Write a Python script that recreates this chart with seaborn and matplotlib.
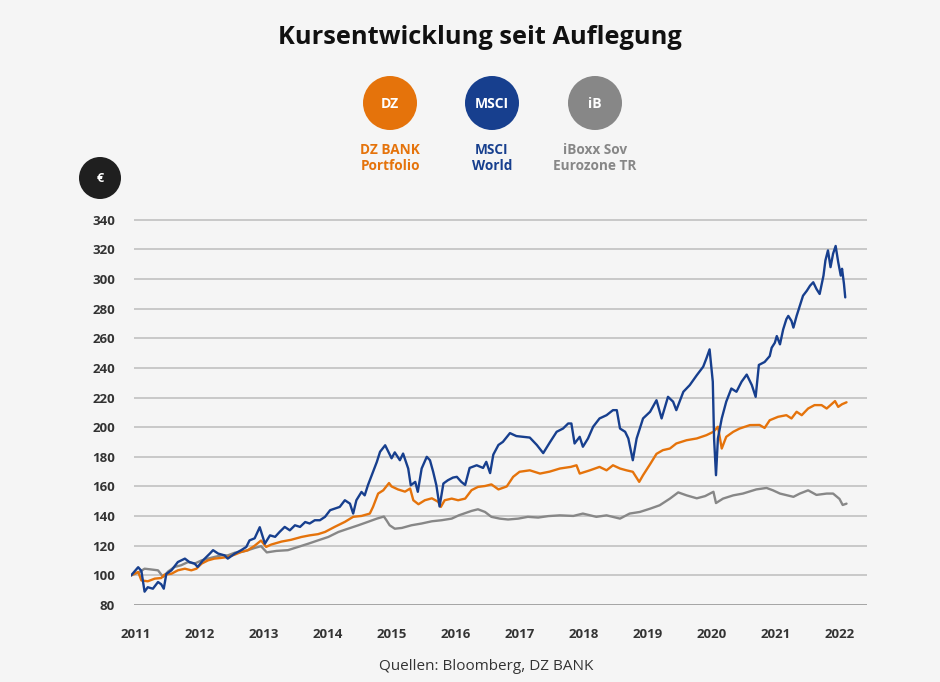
"""Kursentwicklung seit Auflegung -> out.png"""
import numpy as np
import pandas as pd
import matplotlib
matplotlib.use("Agg")
import matplotlib.pyplot as plt
from matplotlib.patches import Circle
import seaborn as sns

# ── data (decimal years, index value) ─────────────────────────────────────────
msci_x = [2010.93, 2011.04, 2011.09, 2011.14, 2011.19, 2011.27, 2011.35, 2011.40, 2011.44, 2011.48,
          2011.56, 2011.66, 2011.77, 2011.84, 2011.92, 2011.97, 2012.05, 2012.16, 2012.21, 2012.29,
          2012.39, 2012.44, 2012.55, 2012.65, 2012.73, 2012.78, 2012.86, 2012.94, 2013.02, 2013.10,
          2013.18, 2013.25, 2013.33, 2013.41, 2013.49, 2013.57, 2013.65, 2013.72, 2013.80, 2013.88,
          2013.96, 2014.04, 2014.11, 2014.19, 2014.27, 2014.35, 2014.40, 2014.45, 2014.53, 2014.58,
          2014.63, 2014.69, 2014.77, 2014.82, 2014.90, 2014.95, 2015.00, 2015.05, 2015.13, 2015.18,
          2015.26, 2015.30, 2015.37, 2015.41, 2015.47, 2015.55, 2015.60, 2015.65, 2015.70, 2015.75,
          2015.81, 2015.88, 2015.96, 2016.02, 2016.09, 2016.15, 2016.22, 2016.33, 2016.43, 2016.48,
          2016.54, 2016.59, 2016.67, 2016.74, 2016.85, 2016.95, 2017.06, 2017.16, 2017.27, 2017.37,
          2017.47, 2017.58, 2017.68, 2017.76, 2017.81, 2017.86, 2017.94, 2017.99, 2018.07, 2018.15,
          2018.25, 2018.36, 2018.46, 2018.52, 2018.57, 2018.65, 2018.70, 2018.77, 2018.83, 2018.93,
          2019.04, 2019.14, 2019.22, 2019.32, 2019.40, 2019.45, 2019.56, 2019.66, 2019.77, 2019.87,
          2019.92, 2019.97, 2020.02, 2020.04, 2020.07, 2020.10, 2020.16, 2020.23, 2020.31, 2020.39,
          2020.47, 2020.55, 2020.63, 2020.69, 2020.74, 2020.83, 2020.91, 2020.94, 2020.99, 2021.02,
          2021.07, 2021.12, 2021.17, 2021.20, 2021.25, 2021.28, 2021.33, 2021.38, 2021.43, 2021.49,
          2021.54, 2021.59, 2021.64, 2021.69, 2021.75, 2021.78, 2021.82, 2021.86, 2021.90, 2021.94,
          2021.98, 2022.02, 2022.04, 2022.07, 2022.09]
msci_y = [100, 105.5, 103, 89, 92, 91, 95.5, 94, 91, 101,
          103.4, 109, 111.3, 109, 108, 105.7, 110, 114.7, 117, 114.7,
          113.5, 111.3, 114.7, 117, 119.2, 123.6, 125, 132.5, 121.4, 127,
          126, 129.3, 132.7, 130.4, 133.8, 132.7, 136, 135, 137.2, 137.2,
          139.5, 144, 145, 146.2, 150.7, 148.4, 141.7, 150.7, 156.3, 154,
          160.8, 167.6, 176.6, 183.4, 187.8, 183.4, 179, 183, 177.7, 182.2,
          172.1, 160.8, 163.1, 156.4, 172.1, 180, 177.7, 169.9, 160.8, 146.5,
          162, 164.2, 166, 166.5, 163.1, 161, 172.5, 174.3, 172.5, 176.6,
          169, 181.5, 188, 190.1, 196, 194, 193.5, 193, 188, 182.5,
          189.5, 196.9, 199.1, 202.5, 202.5, 189, 193.5, 186.8, 192.4, 200.3,
          205.9, 208.1, 211.5, 211.5, 199.1, 196.9, 192.4, 177.7, 192.4, 205.9,
          210.4, 218.2, 205.9, 220.5, 217.2, 211.5, 223.9, 228.4, 235.1, 240.8,
          246.4, 252.5, 230.7, 192.4, 167.6, 192.4, 205.9, 217.2, 226.1, 223.9,
          230.7, 235.5, 228.4, 220.5, 242, 244, 248, 253.6, 257, 261.5,
          255.9, 266, 272.9, 275.1, 271.7, 267.2, 275.1, 281.9, 288.7, 292.1,
          295.5, 297.8, 293.3, 289.9, 302.3, 312.5, 319.3, 308, 317.1, 322.3,
          311.4, 302.3, 306.9, 296.7, 287.6]

dz_x = [2010.93, 2011.04, 2011.09, 2011.19, 2011.30, 2011.40, 2011.45, 2011.56, 2011.66, 2011.77,
        2011.87, 2011.95, 2012.03, 2012.13, 2012.23, 2012.34, 2012.44, 2012.55, 2012.65, 2012.75,
        2012.86, 2012.96, 2013.04, 2013.12, 2013.28, 2013.43, 2013.59, 2013.72, 2013.85, 2013.96,
        2014.11, 2014.27, 2014.40, 2014.53, 2014.66, 2014.71, 2014.79, 2014.87, 2014.96, 2015.00,
        2015.10, 2015.21, 2015.29, 2015.34, 2015.42, 2015.52, 2015.63, 2015.73, 2015.77, 2015.83,
        2015.94, 2016.04, 2016.15, 2016.25, 2016.35, 2016.46, 2016.56, 2016.67, 2016.80, 2016.90,
        2017.00, 2017.16, 2017.32, 2017.47, 2017.63, 2017.80, 2017.89, 2017.94, 2018.10, 2018.25,
        2018.36, 2018.46, 2018.57, 2018.67, 2018.77, 2018.87, 2018.93, 2019.04, 2019.14, 2019.24,
        2019.35, 2019.45, 2019.61, 2019.77, 2019.92, 2020.03, 2020.10, 2020.16, 2020.23, 2020.34,
        2020.44, 2020.60, 2020.75, 2020.83, 2020.91, 2021.04, 2021.17, 2021.25, 2021.33, 2021.41,
        2021.51, 2021.61, 2021.72, 2021.80, 2021.93, 2021.98, 2022.04, 2022.11]
dz_y = [100, 102.3, 96.6, 96, 97.8, 98.2, 100.5, 101.1, 103.4, 104.5,
        103.4, 104.5, 107.9, 110.1, 111.3, 111.8, 112.4, 114, 115.8, 116.9,
        120, 123.5, 119.2, 120.8, 122.8, 124, 125.9, 127, 127.8, 129.3,
        132.7, 136.1, 139.5, 140.1, 141.7, 146.2, 155.2, 157.4, 162.3, 160,
        158, 156.5, 158.6, 150.7, 148, 150.7, 152, 149.6, 146.2, 150.7,
        151.8, 150.7, 151.8, 157.5, 159.7, 160.3, 161.4, 158, 160, 166.5,
        169.9, 170.9, 168.7, 170, 172.1, 173.2, 174.3, 168.7, 170.9, 173.2,
        170.9, 174.3, 172.1, 170.9, 169.9, 163.1, 167.6, 175, 182, 184.5,
        185.6, 189, 191.2, 192.4, 194.6, 196.9, 200.3, 185.6, 193.5, 196.9,
        199.1, 201.4, 201.5, 199.5, 204.7, 207, 208.1, 205.9, 210.4, 208.1,
        212.6, 214.9, 214.9, 212.6, 217.6, 213.7, 215.5, 216.8]

iboxx_x = [2010.93, 2011.06, 2011.14, 2011.24, 2011.35, 2011.43, 2011.51, 2011.61, 2011.71, 2011.82,
           2011.92, 2012.03, 2012.13, 2012.23, 2012.34, 2012.44, 2012.55, 2012.65, 2012.75, 2012.86,
           2012.96, 2013.05, 2013.20, 2013.38, 2013.54, 2013.70, 2013.85, 2014.01, 2014.17, 2014.32,
           2014.48, 2014.63, 2014.77, 2014.88, 2014.92, 2014.97, 2015.05, 2015.16, 2015.31, 2015.47,
           2015.63, 2015.78, 2015.94, 2016.05, 2016.25, 2016.35, 2016.46, 2016.56, 2016.69, 2016.82,
           2016.98, 2017.13, 2017.29, 2017.45, 2017.63, 2017.84, 2017.99, 2018.20, 2018.36, 2018.57,
           2018.72, 2018.88, 2019.04, 2019.19, 2019.35, 2019.48, 2019.61, 2019.77, 2019.90, 2020.03,
           2020.07, 2020.18, 2020.34, 2020.49, 2020.70, 2020.86, 2020.96, 2021.07, 2021.28, 2021.38,
           2021.51, 2021.64, 2021.80, 2021.90, 2022.00, 2022.05, 2022.11]
iboxx_y = [100, 102.3, 104.5, 104, 103.4, 98.9, 102.7, 105.7, 106.8, 109,
           107.9, 110.1, 111.3, 112.4, 113.5, 113.5, 115.3, 115.8, 116.9, 118.5,
           119.7, 115.5, 116.5, 117, 119.2, 121.4, 123.6, 125.9, 129.3, 131.5,
           133.8, 136.1, 138.3, 139.7, 137.2, 133.8, 131.5, 132, 133.8, 135,
           136.5, 137.2, 138.3, 140.5, 143.5, 144.6, 142.8, 139.5, 138.3, 137.7,
           138.3, 139.5, 139, 140, 140.5, 140.1, 141.7, 139.5, 140.5, 138.3,
           141.7, 142.8, 145, 147.3, 151.8, 156, 154, 152, 153.5, 156.4,
           148.8, 151.8, 154, 155.2, 158, 159, 157.4, 155.2, 153, 155.2,
           157.4, 154.3, 155.2, 155.2, 151.6, 147.5, 148.4]

years = list(range(2011, 2023))
yticks = list(range(80, 341, 20))

C_DZ, C_MSCI, C_IB = "#e5730b", "#173f8e", "#878787"
BG = "#f5f5f5"

sns.set_theme(style="white")
plt.rcParams["font.family"] = ["Open Sans", "DejaVu Sans"]

fig = plt.figure(figsize=(9.4, 6.82), dpi=100, facecolor=BG)

# ── overlay for title, legend circles, footer (pixel coords) ─────────────────
ov = fig.add_axes([0, 0, 1, 1], zorder=0)
ov.set_xlim(0, 940); ov.set_ylim(682, 0); ov.set_axis_off()
ov.text(480, 37, "Kursentwicklung seit Auflegung", ha="center", va="center",
        fontsize=18.3, fontweight="bold", color="#111111")
for cx, col, tag, lab in [(390, C_DZ, "DZ", "DZ BANK\nPortfolio"),
                          (492, C_MSCI, "MSCI", "MSCI\nWorld"),
                          (595, C_IB, "iB", "iBoxx Sov\nEurozone TR")]:
    ov.add_patch(Circle((cx, 103), 27, color=col, lw=0))
    ov.text(cx, 104, tag, ha="center", va="center", color="white",
            fontsize=10, fontweight="bold")
    ov.text(cx, 158, lab, ha="center", va="center", color=col,
            fontsize=9.8, fontweight="bold", linespacing=1.15)
ov.add_patch(Circle((100, 178), 21, color="#1f1f1f", lw=0))
ov.text(100, 179, "€", ha="center", va="center", color="white", fontsize=9, fontweight="bold")
ov.text(486, 667, "Quellen: Bloomberg, DZ BANK", ha="center", va="center",
        fontsize=11, color="#333333")

# ── main chart ────────────────────────────────────────────────────────────────
ax = fig.add_axes([130.5 / 940, 77 / 682, (867 - 130.5) / 940, (605 - 219) / 682], zorder=1)
ax.patch.set_alpha(0)
x0, x1 = 2010.92, 2022.43
ax.set_xlim(x0, x1); ax.set_ylim(80, 340.5)
ax.hlines(yticks[1:], 2010.97, x1, color="#bcbcbc", lw=1.1, zorder=0)
ax.hlines(80, 2010.97, x1, color="#8f8f8f", lw=1.1, zorder=0)

for xs, ys, col in [(iboxx_x, iboxx_y, C_IB), (dz_x, dz_y, C_DZ), (msci_x, msci_y, C_MSCI)]:
    df = pd.DataFrame({"jahr": xs, "wert": ys})
    sns.lineplot(data=df, x="jahr", y="wert", ax=ax, color=col, lw=1.7,
                 estimator=None, sort=False)

for s in ax.spines.values():
    s.set_visible(False)
ax.set_xlabel(""); ax.set_ylabel("")
ax.set_xticks(years)
ax.set_xticklabels([str(y) for y in years], fontsize=9.5, fontweight="bold", color="#333333")
ax.set_yticks(yticks)
ax.set_yticklabels([str(v) for v in yticks], fontsize=9.5, fontweight="bold", color="#333333")
ax.tick_params(axis="x", direction="inout", length=7, width=1, color="#8f8f8f", pad=13)
ax.tick_params(axis="y", length=0, pad=11)
ax.grid(False)

fig.savefig("out.png", dpi=100, facecolor=BG)
